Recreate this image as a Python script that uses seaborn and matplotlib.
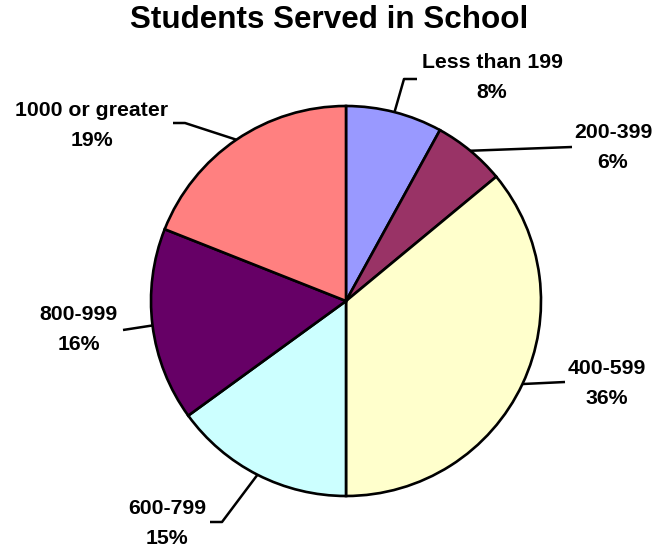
import numpy as np
import matplotlib
matplotlib.use("Agg")
import matplotlib.pyplot as plt
import seaborn as sns

# School-size categories and their share of students served
categories = ["Less than 199", "200-399", "400-599", "600-799", "800-999", "1000 or greater"]
shares = [8, 6, 36, 15, 16, 19]
colors = ["#9999FF", "#993366", "#FFFFCC", "#CCFFFF", "#660066", "#FF8080"]

sns.set_theme(style="white")
plt.rcParams["font.family"] = ["Liberation Sans", "DejaVu Sans"]

W, H = 655, 548
fig = plt.figure(figsize=(W / 100, H / 100), dpi=100)
ax = fig.add_axes([0, 0, 1, 1])

cx, cy, r = 346, H - 301, 195
wedges, _ = ax.pie(shares, colors=colors, startangle=90, counterclock=False,
                   center=(cx, cy), radius=r, frame=True,
                   wedgeprops=dict(edgecolor="black", linewidth=1.9))
ax.set_xlim(0, W)
ax.set_ylim(0, H)
ax.set_aspect("equal")
ax.axis("off")

# Label layout: elbow point, end of leader, text centre (pixel space, y down)
layout = [
    ((404, 79), (417, 79), (492, 63)),
    ((572, 147), (572, 147), (613, 133)),
    ((565, 382), (565, 382), (607, 368)),
    ((222, 522), (210, 522), (167, 508)),
    ((123, 330), (123, 330), (79, 315)),
    ((185, 123), (173, 123), (92, 110)),
]

for w, name, pct, (elbow, end, txt) in zip(wedges, categories, shares, layout):
    mid = np.deg2rad((w.theta1 + w.theta2) / 2)
    ex, ey = cx + r * np.cos(mid), cy + r * np.sin(mid)
    xs = [ex, elbow[0], end[0]]
    ys = [ey, H - elbow[1], H - end[1]]
    ax.plot(xs, ys, color="black", lw=1.8, solid_capstyle="butt")
    ax.text(txt[0], H - txt[1], name, ha="center", va="center",
            fontsize=15.3, fontweight="bold", color="black")
    ax.text(txt[0], H - txt[1] - 30, f"{pct}%", ha="center", va="center",
            fontsize=15.3, fontweight="bold", color="black")

ax.text(329, H - 20, "Students Served in School", ha="center", va="center",
        fontsize=22.6, fontweight="bold", color="black")

fig.savefig("out.png", dpi=100, facecolor="white")
